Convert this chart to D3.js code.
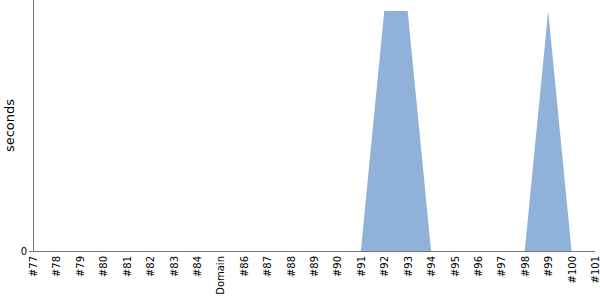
<!DOCTYPE html>
<html lang="en">
<head>
    <meta charset="UTF-8">
    <title>seconds</title>
    <script type="text/javascript" src="https://cdn.jsdelivr.net/npm/d3@7/dist/d3.min.js"></script>
    <style>
        body { margin: 0; }
        text { font-family: "DejaVu Sans", sans-serif; }
    </style>
</head>
<body>
<script>
    // categories along the x axis
    var labels = ["#77", "#78", "#79", "#80", "#81", "#82", "#83", "#84", "Domain", "#86",
        "#87", "#88", "#89", "#90", "#91", "#92", "#93", "#94", "#95", "#96",
        "#97", "#98", "#99", "#100", "#101"];
    // seconds per build
    var values = [0, 0, 0, 0, 0, 0, 0, 0, 0, 0,
        0, 0, 0, 0, 0, 1, 1, 0, 0, 0,
        0, 0, 1, 0, 0];
    var yTicks = [0];

    var width = 600, height = 300;
    var margin = {top: 0, right: 5, bottom: 49, left: 33};

    var svg = d3.select("body").append("svg")
        .attr("width", width)
        .attr("height", height);

    var x = d3.scalePoint()
        .domain(d3.range(labels.length))
        .range([margin.left, width - margin.right]);

    var y = d3.scaleLinear()
        .domain([0, d3.max(values) * 1.046])
        .range([height - margin.bottom, margin.top]);

    var area = d3.area()
        .x(function (d, i) { return x(i); })
        .y0(y(0))
        .y1(function (d) { return y(d); });

    svg.append("path")
        .datum(values)
        .attr("fill", "#8fb1da")
        .attr("d", area);

    // x axis
    var xAxis = svg.append("g")
        .attr("transform", "translate(0," + (height - margin.bottom) + ")")
        .call(d3.axisBottom(x).tickSize(0).tickFormat(function (i) { return labels[i]; }));
    xAxis.select(".domain").attr("stroke", "#777").attr("d", "M" + margin.left + ",0.5H" + (width - margin.right));
    xAxis.selectAll("text")
        .attr("transform", "rotate(-90)")
        .attr("x", -5)
        .attr("y", 0)
        .attr("dy", "0.35em")
        .attr("text-anchor", "end")
        .attr("font-size", 10)
        .attr("font-family", "DejaVu Sans")
        .attr("fill", "#000");

    // y axis
    var yAxis = svg.append("g")
        .attr("transform", "translate(" + margin.left + ",0)")
        .call(d3.axisLeft(y).tickValues(yTicks).tickFormat(d3.format("d")).tickSize(4).tickPadding(2));
    yAxis.select(".domain").attr("stroke", "#777").attr("d", "M0.5,0V" + (height - margin.bottom));
    yAxis.selectAll(".tick line").attr("stroke", "#777");
    yAxis.selectAll("text")
        .attr("font-size", 10)
        .attr("font-family", "DejaVu Sans")
        .attr("fill", "#000");

    svg.append("text")
        .attr("transform", "rotate(-90)")
        .attr("x", -(height - margin.bottom) / 2)
        .attr("y", 14)
        .attr("text-anchor", "middle")
        .attr("font-size", 13)
        .attr("fill", "#000")
        .text("seconds");
</script>
</body>
</html>
